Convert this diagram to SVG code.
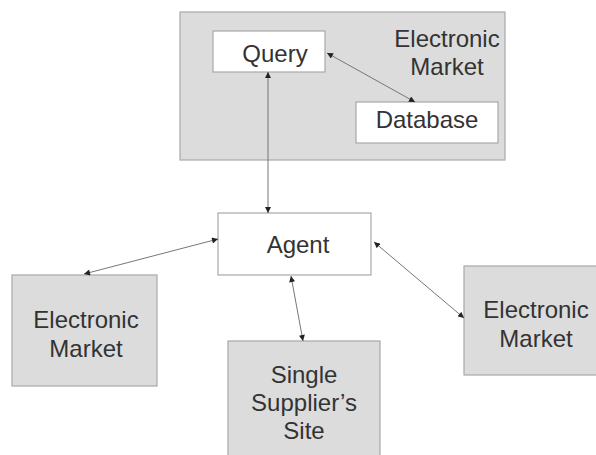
<svg xmlns="http://www.w3.org/2000/svg" width="596" height="455" viewBox="0 0 596 455">
<style>
.gray{fill:#dcdcdc;stroke:#a8a8a8;stroke-width:1.2}
.white{fill:#ffffff;stroke:#a8a8a8;stroke-width:1.2}
.t{font-family:"Liberation Sans",Arial,sans-serif;font-size:24px;fill:#333;text-anchor:middle}
.c{stroke:#777;stroke-width:1;fill:none;marker-start:url(#a);marker-end:url(#a)}
</style>
<defs>
<marker id="a" viewBox="0 0 10 10" refX="10" refY="5" markerWidth="7" markerHeight="6" markerUnits="userSpaceOnUse" orient="auto-start-reverse">
<path d="M0,0 L10,5 L0,10 z" fill="#222"/>
</marker>
</defs>
<g id="market-top">
<rect class="gray" x="180" y="12" width="325" height="148"/>
<text class="t" x="447" y="47">Electronic</text>
<text class="t" x="447" y="75">Market</text>
</g>
<g id="query">
<rect class="white" x="213" y="31" width="112" height="41"/>
<text class="t" x="275" y="62">Query</text>
</g>
<g id="database">
<rect class="white" x="356" y="102" width="142" height="41"/>
<text class="t" x="427" y="128">Database</text>
</g>
<g id="agent">
<rect class="white" x="218" y="213" width="153" height="62"/>
<text class="t" x="298" y="253">Agent</text>
</g>
<g id="market-left">
<rect class="gray" x="12" y="275" width="145" height="111"/>
<text class="t" x="86" y="328">Electronic</text>
<text class="t" x="86" y="357">Market</text>
</g>
<g id="supplier">
<rect class="gray" x="228" y="341" width="152" height="120"/>
<text class="t" x="304" y="383">Single</text>
<text class="t" x="304" y="411">Supplier’s</text>
<text class="t" x="304" y="439">Site</text>
</g>
<g id="market-right">
<rect class="gray" x="464" y="266" width="135" height="109"/>
<text class="t" x="536" y="318">Electronic</text>
<text class="t" x="536" y="347">Market</text>
</g>
<g id="connectors">
<line class="c" x1="268" y1="72" x2="268" y2="213"/>
<line class="c" x1="327" y1="53" x2="415" y2="102"/>
<line class="c" x1="218" y1="239" x2="84" y2="274"/>
<line class="c" x1="291" y1="276" x2="303" y2="341"/>
<line class="c" x1="374" y1="242" x2="464" y2="318"/>
</g>
</svg>
